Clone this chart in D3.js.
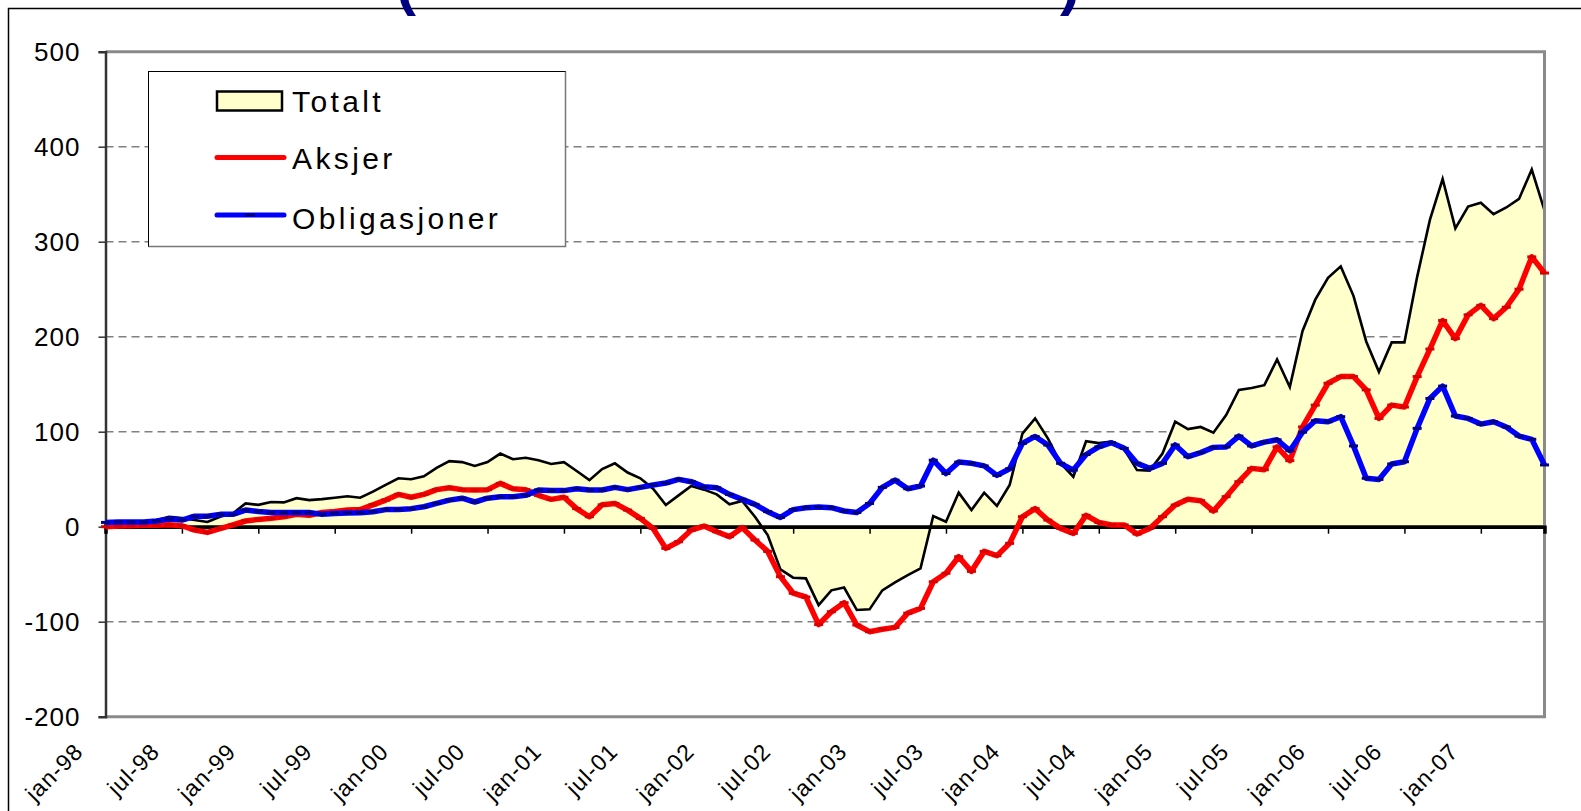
<!DOCTYPE html>
<html>
<head>
<meta charset="utf-8">
<script src="https://cdn.jsdelivr.net/npm/d3@7"></script>
<style>
  body { margin: 0; background: #fff; }
  text { font-family: "Liberation Sans", Arial, sans-serif; }
</style>
</head>
<body>
<div id="chart"></div>
<script>
// monthly points jan-98 .. jun-07
var startYear = 1998, nMonths = 114;

var tickLabels = ["jan-98", "jul-98", "jan-99", "jul-99", "jan-00", "jul-00", "jan-01", "jul-01",
    "jan-02", "jul-02", "jan-03", "jul-03", "jan-04", "jul-04", "jan-05", "jul-05",
    "jan-06", "jul-06", "jan-07"];

var yTicks = [-200, -100, 0, 100, 200, 300, 400, 500];

var totalt = [3.5, 5, 5, 5.3, 7, 10.5, 9, 7, 5, 10.5, 14, 24.5, 23, 26, 25.6, 30, 28, 29, 30.5, 32,
    30.5, 37, 44, 51, 50, 53, 62, 69, 68, 64, 68, 77, 71, 72.6, 70, 66, 68, 58.6, 49, 60.7,
    66.7, 57, 51, 40, 22.8, 33, 42.8, 39, 34, 23.5, 27, 10.5, -8.8, -45, -53.7, -54.4, -82.5, -67, -64, -87.7,
    -87, -67, -58.6, -51, -43.9, 11.2, 5.3, 35.8, 17.5, 35.8, 21.8, 43.9, 98, 114, 93, 66.7, 52.6, 90, 88, 89.5,
    81.4, 59.6, 59, 77, 110.5, 102.8, 105, 99, 117.5, 144, 146, 149, 176, 147, 206, 239, 262, 274, 243, 195,
    163, 194, 194, 263, 323, 366, 314, 337, 341, 329, 336, 345, 376, 333];

var aksjer = [0, 0.7, 1, 1.4, 1.4, 2, 1, -3.5, -6, -2, 2, 6, 7.7, 8.8, 10.5, 13, 12, 15, 16, 17.5,
    18, 23, 28, 34, 31, 34, 39, 41, 39, 38.6, 39, 45.6, 40, 39, 33, 28.8, 31, 19, 10.5, 23,
    24.5, 17.5, 8.8, -1.8, -22.8, -15.8, -3.5, 0.7, -5.3, -10.5, -1, -14, -26, -52.6, -70, -74, -103, -89.5, -80, -103.5,
    -110.5, -108, -106, -91, -86, -58, -49, -31.6, -47, -26, -30.5, -17.5, 10.5, 19, 7, -1.8, -7, 12, 4.5, 1.8,
    1.8, -7.7, -1.8, 10.5, 22.8, 28.8, 27.4, 16.5, 31.6, 47.4, 61.4, 60, 84, 69.5, 105, 128, 151, 158, 158, 144,
    114, 128, 126, 158, 187, 217, 198, 223, 233, 219, 231, 250, 284, 267];

var obligasjoner = [4.5, 5, 5, 5, 6, 8, 7, 11, 11, 13, 13, 17.5, 16, 15, 15, 15, 15, 13, 14, 14.5,
    14.7, 15.8, 18, 18, 19, 21, 24.5, 28, 30, 26, 30, 31.6, 31.6, 33, 38.6, 38, 38, 40, 38.6, 38.6,
    41.4, 39, 41.4, 43.9, 46, 49.8, 47.4, 42, 41, 34, 28.8, 23.5, 15.8, 9.8, 18, 20, 20.7, 20, 16.5, 15,
    24.5, 41.4, 49, 40, 42.8, 70, 56, 68, 66.7, 64, 54, 61, 87.7, 95, 86, 66.7, 59.6, 76, 84, 88.4,
    82.5, 66.7, 61.4, 66.7, 86, 73.7, 78, 83.5, 84, 95.4, 85, 89, 91.5, 80, 99.5, 111.6, 110.5, 115.8, 85, 51,
    49.8, 66, 68.4, 103.5, 135, 148, 116.5, 114, 108, 110.5, 105, 95.4, 92, 65];

var months = d3.range(nMonths).map(function (i) {
    return d3.timeFormat("%Y-%m")(new Date(startYear, i, 1));
});

var W = 1581, H = 811;
var plotL = 105.5, plotR = 1544.5, plotT = 51.7, plotB = 716.7;

var svg = d3.select("#chart").append("svg")
    .attr("width", W).attr("height", H);

// outer chart frame
svg.append("path")
    .attr("d", "M8.5," + H + " L8.5,8.5 L" + W + ",8.5")
    .attr("fill", "none").attr("stroke", "#000").attr("stroke-width", 1.5);

// clipped title remnants
svg.append("text").attr("x", 396).attr("y", 4).text("(")
    .attr("font-size", 60).attr("font-weight", "bold").attr("fill", "#000080");
svg.append("text").attr("x", 1060).attr("y", 4).text(")")
    .attr("font-size", 60).attr("font-weight", "bold").attr("fill", "#000080");

var x = d3.scalePoint().domain(months).range([plotL, plotR]);
var y = d3.scaleLinear().domain([-200, 500]).range([plotB, plotT]);

// gridlines
svg.append("g").selectAll("line")
    .data(yTicks.filter(function (d) { return d !== 0 && d !== 500 && d !== -200; }))
    .enter().append("line")
    .attr("x1", plotL).attr("x2", plotR)
    .attr("y1", function (d) { return y(d); }).attr("y2", function (d) { return y(d); })
    .attr("stroke", "#808080").attr("stroke-width", 1.5).attr("stroke-dasharray", "8,5");

// Totalt area
var area = d3.area()
    .x(function (d, i) { return x(months[i]); })
    .y0(y(0))
    .y1(function (d) { return y(d); });
svg.append("path").datum(totalt)
    .attr("d", area)
    .attr("fill", "#FFFFCC")
    .attr("stroke", "#000").attr("stroke-width", 2.6).attr("stroke-linejoin", "miter");

// plot frame
svg.append("path")
    .attr("d", "M" + plotL + "," + plotT + " L" + plotR + "," + plotT + " L" + plotR + "," + plotB + " L" + plotL + "," + plotB)
    .attr("fill", "none").attr("stroke", "#8a8a8a").attr("stroke-width", 3);

// y axis
var yAxis = svg.append("g").attr("transform", "translate(" + plotL + ",0)")
    .call(d3.axisLeft(y).tickValues(yTicks).tickSize(7).tickFormat(function (d) { return String(d); }));
yAxis.select(".domain").attr("stroke", "#333").attr("stroke-width", 2.5);
yAxis.selectAll(".tick line").attr("stroke", "#333").attr("stroke-width", 1.5);
yAxis.selectAll(".tick text")
    .attr("x", -25)
    .style("font-family", "'Liberation Sans', Arial, sans-serif")
    .style("font-size", "26px").style("letter-spacing", "1px").attr("fill", "#000");

// zero axis with month ticks
var tickMonths = months.filter(function (m, i) { return i % 6 === 0; });
var xAxis = svg.append("g").attr("transform", "translate(0," + y(0) + ")")
    .call(d3.axisBottom(x).tickValues(tickMonths).tickSize(7).tickFormat(""));
xAxis.select(".domain").attr("stroke", "#000").attr("stroke-width", 3.5);
xAxis.selectAll(".tick line").attr("stroke", "#000").attr("stroke-width", 1.5);

// month labels under plot
svg.append("g").selectAll("text")
    .data(tickMonths)
    .enter().append("text")
    .attr("transform", function (d) { return "translate(" + (x(d) - 21) + ",753) rotate(-45)"; })
    .attr("text-anchor", "end")
    .style("font-size", "23px").style("letter-spacing", "1px")
    .text(function (d, i) { return tickLabels[i]; });

// line series
var line = d3.line()
    .x(function (d, i) { return x(months[i]); })
    .y(function (d) { return y(d); });

function drawSeries(data, color, markColor) {
    svg.append("path").datum(data)
        .attr("d", line)
        .attr("fill", "none").attr("stroke", color)
        .attr("stroke-width", 5.5).attr("stroke-linejoin", "round");
    svg.append("g").selectAll("rect")
        .data(data).enter().append("rect")
        .attr("x", function (d, i) { return x(months[i]) - 4.5; })
        .attr("y", function (d) { return y(d) - 1.5; })
        .attr("width", 9).attr("height", 3)
        .attr("fill", markColor);
}
drawSeries(aksjer, "#FF0000", "#D80000");
drawSeries(obligasjoner, "#0000FF", "#000080");

// legend
var lg = svg.append("g");
lg.append("rect").attr("x", 148.5).attr("y", 71.5).attr("width", 417).attr("height", 175)
    .attr("fill", "#fff").attr("stroke", "#000").attr("stroke-width", 1);
lg.append("path").attr("d", "M565.5,71.5 L565.5,246.5 L148.5,246.5")
    .attr("fill", "none").attr("stroke", "#777").attr("stroke-width", 1.5);

var legendItems = [
    { name: "Totalt", y: 101, base: 111.7 },
    { name: "Aksjer", y: 157.5, base: 169.3, color: "#FF0000" },
    { name: "Obligasjoner", y: 215, base: 228.5, color: "#0000FF", mark: "#000080" }
];
legendItems.forEach(function (it) {
    if (!it.color) {
        lg.append("rect").attr("x", 217).attr("y", 91.5).attr("width", 65).attr("height", 19)
            .attr("fill", "#FFFFCC").attr("stroke", "#000").attr("stroke-width", 2.5);
    } else {
        lg.append("line").attr("x1", 217).attr("x2", 284).attr("y1", it.y).attr("y2", it.y)
            .attr("stroke", it.color).attr("stroke-width", 5).attr("stroke-linecap", "round");
        if (it.mark) {
            lg.append("rect").attr("x", 245).attr("y", it.y - 1.5).attr("width", 10).attr("height", 3)
                .attr("fill", it.mark);
        }
    }
    lg.append("text").attr("x", 292).attr("y", it.base)
        .style("font-size", "30px").style("letter-spacing", "3.4px")
        .text(it.name);
});
</script>
</body>
</html>
